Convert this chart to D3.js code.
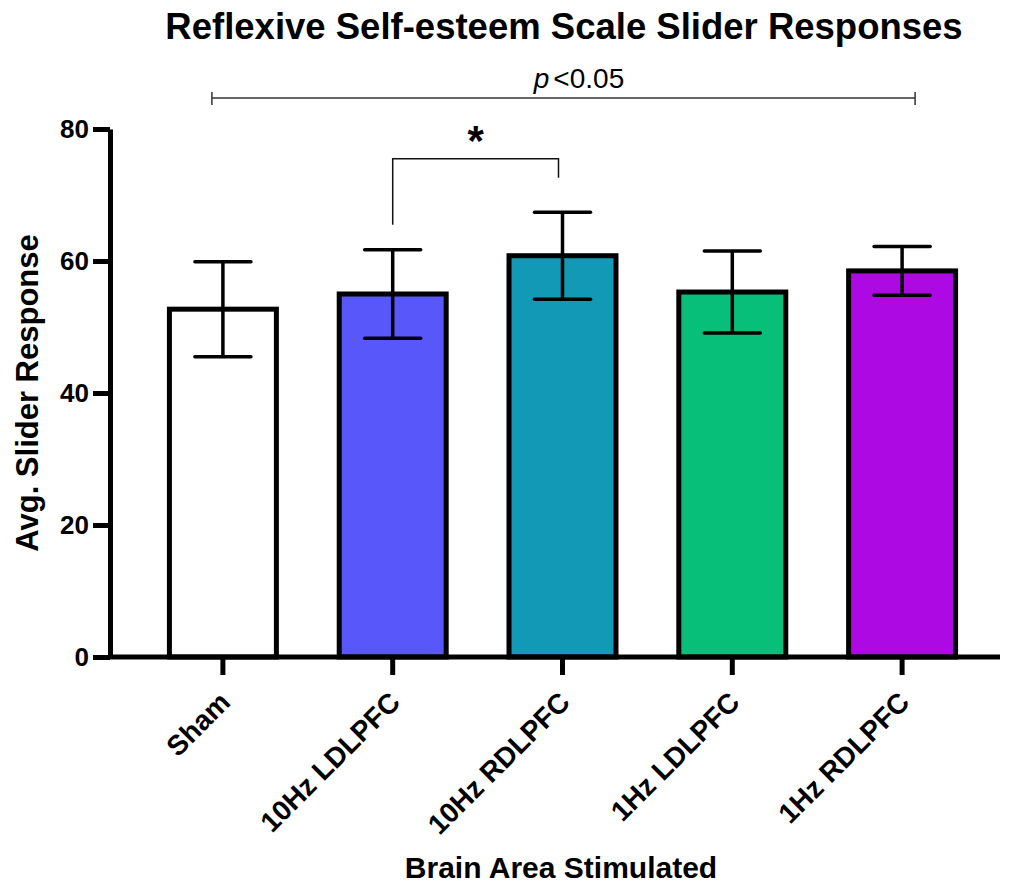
<!DOCTYPE html>
<html>
<head>
<meta charset="utf-8">
<script src="https://cdn.jsdelivr.net/npm/d3@7"></script>
<style>
  body { margin: 0; background: #fff; }
  #chart { width: 1010px; height: 884px; }
  text { font-family: "Liberation Sans", Arial, sans-serif; }
</style>
</head>
<body>
<div id="chart"></div>
<script>
const groups = ["Sham", "10Hz LDLPFC", "10Hz RDLPFC", "1Hz LDLPFC", "1Hz RDLPFC"];
const means = [52.7, 55.0, 60.8, 55.3, 58.5];
const errors = [7.2, 6.7, 6.6, 6.2, 3.7];
const colors = ["#ffffff", "#5757fa", "#1199b5", "#07bf78", "#ad09e3"];
const yTicks = [0, 20, 40, 60, 80];

let width = 1010;
let height = 884;

const svg = d3
  .select("#chart")
  .append("svg")
  .attr("width", width)
  .attr("height", height);

// plot area
const plotLeft = 110, plotRight = 1000, plotTop = 129, plotBottom = 657;

const y = d3.scaleLinear().domain([0, 80]).range([plotBottom, plotTop]);
const x = d3
  .scaleBand()
  .domain(groups)
  .range([138, 987])
  .paddingInner(0.37)
  .paddingOuter(0.185);

// bars
svg
  .append("g")
  .selectAll("rect")
  .data(groups)
  .enter()
  .append("rect")
  .attr("x", (d) => x(d))
  .attr("y", (d, i) => y(means[i]))
  .attr("width", x.bandwidth())
  .attr("height", (d, i) => y(0) - y(means[i]))
  .attr("fill", (d, i) => colors[i])
  .attr("stroke", "#000")
  .attr("stroke-width", 5);

// error bars
const err = svg.append("g").attr("stroke", "#000").attr("stroke-width", 3.5);
groups.forEach((g, i) => {
  const cx = x(g) + x.bandwidth() / 2;
  err.append("line")
    .attr("x1", cx).attr("x2", cx)
    .attr("y1", y(means[i] - errors[i])).attr("y2", y(means[i] + errors[i]));
  [means[i] - errors[i], means[i] + errors[i]].forEach((v) => {
    err.append("line")
      .attr("x1", cx - 28).attr("x2", cx + 28)
      .attr("y1", y(v)).attr("y2", y(v))
      .attr("stroke-linecap", "round");
  });
});

// y axis
const yAxis = svg
  .append("g")
  .attr("transform", `translate(${plotLeft},0)`)
  .call(d3.axisLeft(y).tickValues(yTicks).tickSize(17).tickSizeOuter(0).tickPadding(4));
yAxis.select(".domain").attr("stroke-width", 5);
yAxis.selectAll(".tick line").attr("stroke-width", 5);
yAxis.selectAll(".tick text")
  .attr("font-size", 26)
  .attr("font-weight", "bold")
  .attr("fill", "#000");

// x axis
const xAxis = svg
  .append("g")
  .attr("transform", `translate(0,${plotBottom})`)
  .call(d3.axisBottom(x).tickSize(18).tickSizeOuter(0));
xAxis.select(".domain").remove();
xAxis.append("line")
  .attr("x1", plotLeft).attr("x2", plotRight)
  .attr("stroke", "#000").attr("stroke-width", 5);
xAxis.selectAll(".tick line").attr("stroke-width", 5);
xAxis.selectAll(".tick text")
  .attr("font-size", 28)
  .attr("font-weight", "bold")
  .attr("fill", "#000")
  .attr("text-anchor", "end")
  .attr("y", 0)
  .attr("dy", 0)
  .attr("transform", "translate(9,47) rotate(-45)");

// significance: 10Hz LDLPFC vs 10Hz RDLPFC
const c1 = x(groups[1]) + x.bandwidth() / 2;
const c2 = x(groups[2]) + x.bandwidth() / 2 - 4;
svg.append("path")
  .attr("d", `M${c1},${y(65.5)}V${y(75.5)}H${c2}V${y(72.6)}`)
  .attr("fill", "none")
  .attr("stroke", "#111")
  .attr("stroke-width", 1.5);
svg.append("text")
  .attr("x", (c1 + c2) / 2)
  .attr("y", y(75.5) - 4)
  .attr("text-anchor", "middle")
  .attr("font-size", 42)
  .attr("font-weight", "bold")
  .text("*");

// significance: Sham vs 1Hz RDLPFC
const s1 = x(groups[0]) + x.bandwidth() / 2 - 11;
const s2 = x(groups[4]) + x.bandwidth() / 2 + 13;
const py = y(84.7);
svg.append("path")
  .attr("d", `M${s1},${py - 6}V${py + 7}M${s1},${py}H${s2}M${s2},${py - 6}V${py + 7}`)
  .attr("fill", "none")
  .attr("stroke", "#333")
  .attr("stroke-width", 1.5);
const pt = svg.append("text")
  .attr("x", 579)
  .attr("y", py - 10)
  .attr("text-anchor", "middle")
  .attr("font-size", 28);
pt.append("tspan").attr("font-style", "italic").text("p");
pt.append("tspan").attr("dx", 4).text("<0.05");

// titles
svg.append("text")
  .attr("x", 564)
  .attr("y", 39)
  .attr("text-anchor", "middle")
  .attr("font-size", 36.5)
  .attr("font-weight", "bold")
  .text("Reflexive Self-esteem Scale Slider Responses");

svg.append("text")
  .attr("transform", `translate(38,${(plotTop + plotBottom) / 2}) rotate(-90)`)
  .attr("text-anchor", "middle")
  .attr("font-size", 31)
  .attr("font-weight", "bold")
  .text("Avg. Slider Response");

svg.append("text")
  .attr("x", 561)
  .attr("y", 878)
  .attr("text-anchor", "middle")
  .attr("font-size", 30)
  .attr("font-weight", "bold")
  .text("Brain Area Stimulated");
</script>
</body>
</html>
